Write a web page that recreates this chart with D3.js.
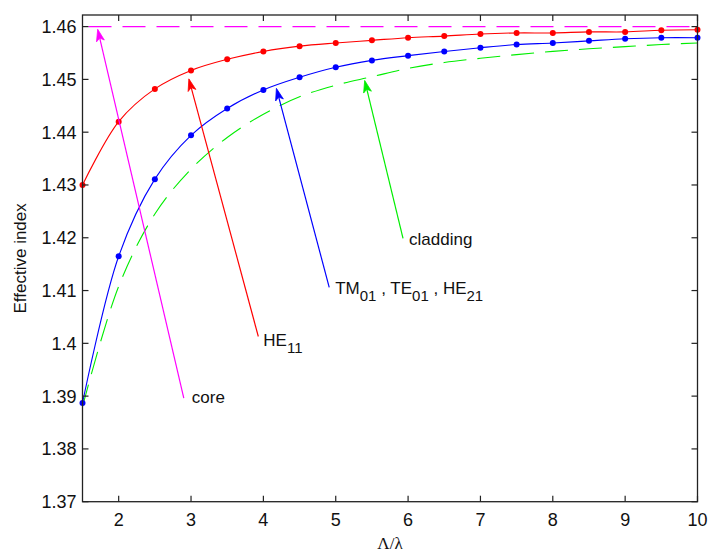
<!DOCTYPE html>
<html>
<head>
<meta charset="utf-8">
<script src="https://cdn.jsdelivr.net/npm/d3@7"></script>
<style>
  html, body { margin: 0; padding: 0; background: #fff; }
  svg { display: block; }
  text { font-family: "Liberation Sans", Arial, sans-serif; fill: #111; }
</style>
</head>
<body>
<svg id="chart" width="709" height="552"></svg>
<script>
// ---------- data ----------
const lambdaRatio = [1.5, 2, 2.5, 3, 3.5, 4, 4.5, 5, 5.5, 6, 6.5, 7, 7.5, 8, 8.5, 9, 9.5, 10];
const he11 = [1.4300, 1.4420, 1.4482, 1.4517, 1.4538, 1.4553, 1.4563, 1.4569, 1.4574, 1.4579, 1.4582, 1.4586, 1.4588, 1.4588, 1.4590, 1.4590, 1.4593, 1.4594];
const tm01 = [1.3887, 1.4165, 1.4311, 1.4394, 1.4445, 1.4480, 1.4504, 1.4523, 1.4536, 1.4545, 1.4553, 1.4560, 1.4566, 1.4569, 1.4573, 1.4577, 1.4579, 1.4579];
const cladding = [1.3880, 1.4108, 1.4245, 1.4330, 1.4390, 1.4434, 1.4467, 1.4489, 1.4505, 1.4521, 1.4532, 1.4540, 1.4547, 1.4553, 1.4558, 1.4562, 1.4566, 1.4569];
const coreIndex = 1.46;
const xTicks = [2, 3, 4, 5, 6, 7, 8, 9, 10];
const yTicks = [1.37, 1.38, 1.39, 1.40, 1.41, 1.42, 1.43, 1.44, 1.45, 1.46];
const yTickLabels = ["1.37", "1.38", "1.39", "1.4", "1.41", "1.42", "1.43", "1.44", "1.45", "1.46"];
const xDomain = [1.5, 10];
const yDomain = [1.37, 1.4622];

// annotations: tail (label end) and tip (arrow head) in data units
const annotations = [
  { name: "core",     color: "#ff00ff", tail: [2.90, 1.3896], tip: [1.71, 1.4595], parts: [["core", false]], dx: 8, dy: 5 },
  { name: "HE11",     color: "#ff0000", tail: [3.93, 1.4013], tip: [2.97, 1.4501], parts: [["HE", false], ["11", true]], dx: 5, dy: 10 },
  { name: "TM",       color: "#0000ff", tail: [4.91, 1.4106], tip: [4.18, 1.4483], parts: [["TM", false], ["01", true], [" , TE", false], ["01", true], [" , HE", false], ["21", true]], dx: 6, dy: 7 },
  { name: "cladding", color: "#00ee00", tail: [5.93, 1.4199], tip: [5.40, 1.4498], parts: [["cladding", false]], dx: 6, dy: 7 }
];

// ---------- layout ----------
const svg = d3.select("#chart");
const mLeft = 82.5, mRight = 697.5, mTop = 15, mBottom = 501.7;
const x = d3.scaleLinear().domain(xDomain).range([mLeft, mRight]);
const y = d3.scaleLinear().domain(yDomain).range([mBottom, mTop]);

const g = svg.append("g");

const line = (vals) => d3.line()
  .x((d, i) => x(lambdaRatio[i]))
  .y(d => y(d))
  .curve(d3.curveCatmullRom.alpha(0.5))(vals);

// core dashed
g.append("line")
  .attr("x1", x(xDomain[0])).attr("x2", x(xDomain[1]))
  .attr("y1", y(coreIndex)).attr("y2", y(coreIndex))
  .attr("stroke", "#ff00ff").attr("stroke-width", 1.2)
  .attr("stroke-dasharray", "23,11").attr("stroke-dashoffset", -6);

// cladding dashed
g.append("path").attr("d", line(cladding))
  .attr("fill", "none").attr("stroke", "#00ee00").attr("stroke-width", 1.1)
  .attr("stroke-dasharray", "23,11");

// TM01, TE01, HE21
g.append("path").attr("d", line(tm01))
  .attr("fill", "none").attr("stroke", "#0000ff").attr("stroke-width", 1.1);
g.selectAll("circle.tm").data(tm01).enter().append("circle")
  .attr("class", "tm")
  .attr("cx", (d, i) => x(lambdaRatio[i])).attr("cy", d => y(d))
  .attr("r", 3).attr("fill", "#0000ff");

// HE11
g.append("path").attr("d", line(he11))
  .attr("fill", "none").attr("stroke", "#ff0000").attr("stroke-width", 1.1);
g.selectAll("circle.he").data(he11).enter().append("circle")
  .attr("class", "he")
  .attr("cx", (d, i) => x(lambdaRatio[i])).attr("cy", d => y(d))
  .attr("r", 3).attr("fill", "#ff0000");

// annotations
annotations.forEach(a => {
  const tx = x(a.tail[0]), ty = y(a.tail[1]);
  const px = x(a.tip[0]), py = y(a.tip[1]);
  const ang = Math.atan2(py - ty, px - tx);
  const L = 12, W = 4, N = 9;
  const ux = Math.cos(ang), uy = Math.sin(ang);
  const nx = -uy, ny = ux;
  const bx = px - ux * L, by = py - uy * L;
  const mx = px - ux * N, my = py - uy * N;
  g.append("line")
    .attr("x1", tx).attr("y1", ty).attr("x2", mx).attr("y2", my)
    .attr("stroke", a.color).attr("stroke-width", 1.2);
  g.append("path")
    .attr("d", `M${px},${py}L${bx + nx * W},${by + ny * W}L${mx},${my}L${bx - nx * W},${by - ny * W}Z`)
    .attr("fill", a.color).attr("stroke", a.color).attr("stroke-width", 0.8);
  const t = g.append("text")
    .attr("x", tx + a.dx).attr("y", ty + a.dy)
    .attr("font-size", 17)
    .attr("xml:space", "preserve")
    .style("white-space", "pre");
  let prevSub = false;
  a.parts.forEach(([s, sub]) => {
    const ts = t.append("tspan").text(s);
    if (sub) {
      ts.attr("font-size", 15).attr("dy", 7);
    } else if (prevSub) {
      ts.attr("dy", -7);
    }
    prevSub = sub;
  });
});

// axes box
g.append("rect")
  .attr("x", mLeft).attr("y", mTop).attr("width", mRight - mLeft).attr("height", mBottom - mTop)
  .attr("fill", "none").attr("stroke", "#222").attr("stroke-width", 1.3);

const tickLen = 6;
const axisG = svg.append("g").attr("stroke", "#222").attr("stroke-width", 1.2);
xTicks.forEach(v => {
  axisG.append("line").attr("x1", x(v)).attr("x2", x(v)).attr("y1", mBottom).attr("y2", mBottom - tickLen);
  axisG.append("line").attr("x1", x(v)).attr("x2", x(v)).attr("y1", mTop).attr("y2", mTop + tickLen);
});
yTicks.forEach(v => {
  axisG.append("line").attr("x1", mLeft).attr("x2", mLeft + tickLen).attr("y1", y(v)).attr("y2", y(v));
  axisG.append("line").attr("x1", mRight).attr("x2", mRight - tickLen).attr("y1", y(v)).attr("y2", y(v));
});

svg.append("g").selectAll("text").data(xTicks).enter().append("text")
  .attr("x", d => x(d)).attr("y", mBottom + 24)
  .attr("text-anchor", "middle").attr("font-size", 18)
  .text(d => d);

svg.append("g").selectAll("text").data(yTicks).enter().append("text")
  .attr("x", mLeft - 6).attr("y", d => y(d)).attr("dy", "0.36em")
  .attr("text-anchor", "end").attr("font-size", 18)
  .text((d, i) => yTickLabels[i]);

svg.append("text")
  .attr("transform", `translate(26, ${(mTop + mBottom) / 2}) rotate(-90)`)
  .attr("text-anchor", "middle").attr("font-size", 17)
  .text("Effective index");

svg.append("text")
  .attr("x", (mLeft + mRight) / 2).attr("y", 549)
  .attr("text-anchor", "middle").attr("font-size", 17)
  .style("font-family", "'Liberation Serif', serif")
  .text("Λ/λ");
</script>
</body>
</html>
